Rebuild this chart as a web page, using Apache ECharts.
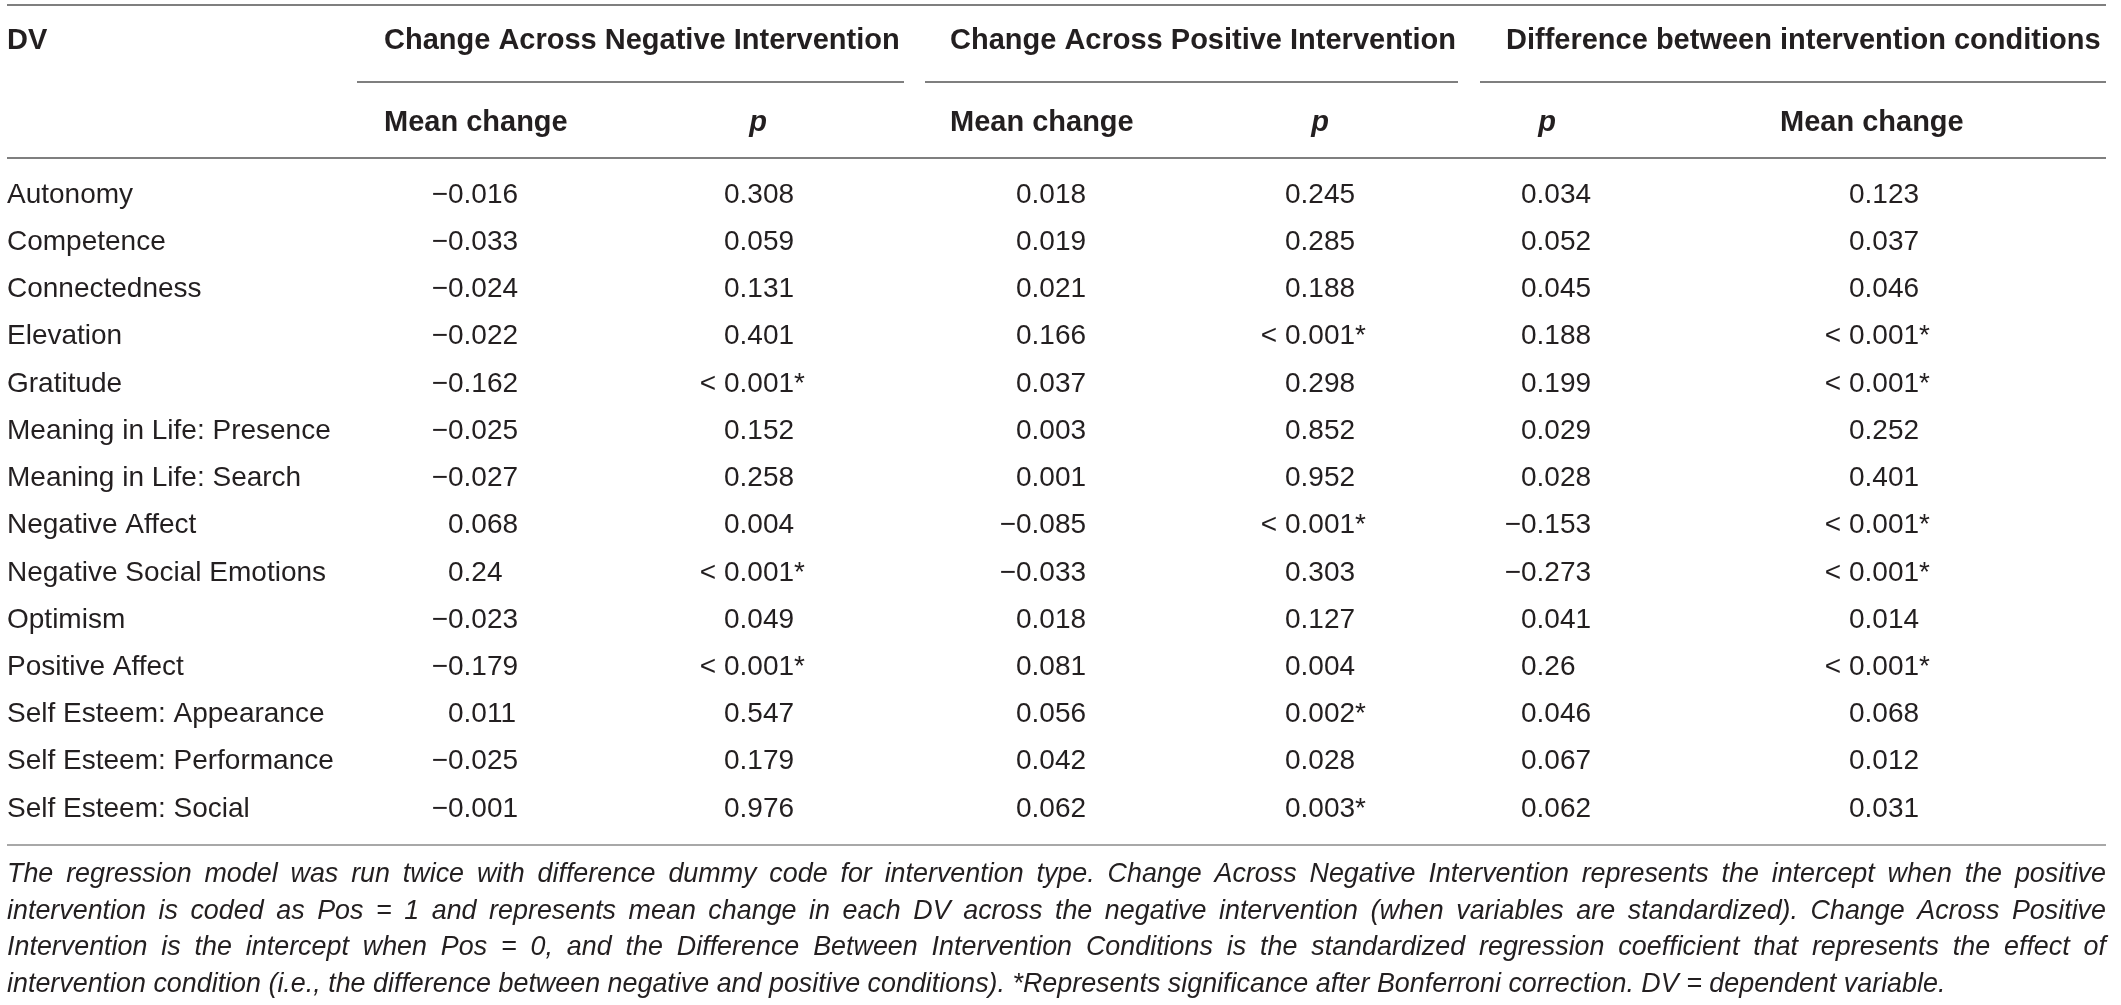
<!DOCTYPE html>
<html>
<head>
<meta charset="utf-8">
<script src="https://cdn.jsdelivr.net/npm/echarts@6/dist/echarts.min.js"></script>
<style>
html,body{margin:0;padding:0;background:#ffffff;}
#c{width:2121px;height:1005px;}
</style>
</head>
<body>
<div id="c"></div>
<script>
// ---------------- DATA ----------------
const dvLabels = [
  'Autonomy','Competence','Connectedness','Elevation','Gratitude',
  'Meaning in Life: Presence','Meaning in Life: Search','Negative Affect',
  'Negative Social Emotions','Optimism','Positive Affect',
  'Self Esteem: Appearance','Self Esteem: Performance','Self Esteem: Social'
];
const negMeanChange = [-0.016,-0.033,-0.024,-0.022,-0.162,-0.025,-0.027,0.068,0.24,-0.023,-0.179,0.011,-0.025,-0.001];
const negP = ['0.308','0.059','0.131','0.401','< 0.001*','0.152','0.258','0.004','< 0.001*','0.049','< 0.001*','0.547','0.179','0.976'];
const posMeanChange = [0.018,0.019,0.021,0.166,0.037,0.003,0.001,-0.085,-0.033,0.018,0.081,0.056,0.042,0.062];
const posP = ['0.245','0.285','0.188','< 0.001*','0.298','0.852','0.952','< 0.001*','0.303','0.127','0.004','0.002*','0.028','0.003*'];
const diffP = [0.034,0.052,0.045,0.188,0.199,0.029,0.028,-0.153,-0.273,0.041,0.26,0.046,0.067,0.062];
const diffMeanChange = ['0.123','0.037','0.046','< 0.001*','< 0.001*','0.252','0.401','< 0.001*','< 0.001*','0.014','< 0.001*','0.068','0.012','0.031'];

const stubHeader = 'DV';
const groupHeaders = ['Change Across Negative Intervention','Change Across Positive Intervention','Difference between intervention conditions'];
const subHeaders = ['Mean change','p','Mean change','p','p','Mean change'];
const noteLines = [
  'The regression model was run twice with difference dummy code for intervention type. Change Across Negative Intervention represents the intercept when the positive',
  'intervention is coded as Pos = 1 and represents mean change in each DV across the negative intervention (when variables are standardized). Change Across Positive',
  'Intervention is the intercept when Pos = 0, and the Difference Between Intervention Conditions is the standardized regression coefficient that represents the effect of',
  'intervention condition (i.e., the difference between negative and positive conditions). *Represents significance after Bonferroni correction. DV = dependent variable.'
];

// ---------------- LAYOUT / STYLE ----------------
const W = 2121, H = 1005;
const FONT = '"Liberation Sans", Arial, Helvetica, sans-serif';
const INK = '#231f20';
const RULE = '#7f7f7f';
const ROW0 = 195, ROWSTEP = 47.23;
const columns = [negMeanChange, negP, posMeanChange, posP, diffP, diffMeanChange];
const colAnchors = [448, 724, 1016, 1285, 1521, 1849];   // decimal-alignment anchors (x scale)
const BODY_FS = 28, HEAD_FS = 29;

function fmt(v) {
  if (typeof v === 'string') return v;
  return (v < 0 ? '\u2212' : '') + String(Math.abs(v));
}
function splitCell(s) {
  if (s.startsWith('\u2212')) return ['\u2212', s.slice(1)];
  if (s.startsWith('< ')) return ['< ', s.slice(2)];
  return ['', s];
}
function txt(text, x, y, opt) {
  opt = opt || {};
  return {
    type: 'text', x: x, y: y, silent: true,
    style: {
      text: text, fill: INK,
      fontSize: opt.fs || BODY_FS, fontFamily: FONT,
      fontWeight: opt.weight || 'normal', fontStyle: opt.style || 'normal',
      align: opt.align || 'left', verticalAlign: 'middle'
    }
  };
}
function hline(x1, x2, y, color, w) {
  return { type: 'line', silent: true, shape: { x1: x1, y1: y, x2: x2, y2: y },
           style: { stroke: color || RULE, lineWidth: w || 2 } };
}

const graphics = [];
// rules
graphics.push(hline(7, 2106, 5));
graphics.push(hline(357, 904, 82));
graphics.push(hline(925, 1458, 82));
graphics.push(hline(1480, 2106, 82));
graphics.push(hline(7, 2106, 158));
graphics.push(hline(7, 2106, 845, '#a8a8a8', 2));
// headers
graphics.push(txt(stubHeader, 7, 41, { fs: HEAD_FS, weight: 'bold' }));
const groupX = [384, 950, 1506];
groupHeaders.forEach((g, i) => graphics.push(txt(g, groupX[i], 41, { fs: HEAD_FS, weight: 'bold' })));
const subPos = [[384, 'left'], [758, 'center'], [950, 'left'], [1320, 'center'], [1547, 'center'], [1780, 'left']];
subHeaders.forEach((s, i) => {
  graphics.push(txt(s, subPos[i][0], 123, { fs: HEAD_FS, weight: 'bold', style: s === 'p' ? 'italic' : 'normal', align: subPos[i][1] }));
});
// footnote, justified lines
(function () {
  const cv = document.createElement('canvas').getContext('2d');
  const left = 7, right = 2106, full = right - left;
  const lastLineWidth = 1940;
  let fs = 26;
  cv.font = 'italic ' + fs + 'px ' + FONT;
  fs = fs * lastLineWidth / cv.measureText(noteLines[3]).width;
  cv.font = 'italic ' + fs + 'px ' + FONT;
  let maxW = 0;
  for (let i = 0; i < 3; i++) maxW = Math.max(maxW, cv.measureText(noteLines[i]).width);
  if (maxW > full * 0.998) { fs = fs * full * 0.998 / maxW; cv.font = 'italic ' + fs + 'px ' + FONT; }
  const ys = [875, 912, 948, 985];
  noteLines.forEach((line, li) => {
    if (li === 3) {
      graphics.push(txt(line, left, ys[li], { fs: fs, style: 'italic' }));
      return;
    }
    const words = line.split(' ');
    const ws = words.map(w => cv.measureText(w).width);
    const sum = ws.reduce((a, b) => a + b, 0);
    const gap = (full - sum) / (words.length - 1);
    let x = left;
    words.forEach((w, k) => {
      graphics.push(txt(w, x, ys[li], { fs: fs, style: 'italic' }));
      x += ws[k] + gap;
    });
  });
})();

// cell series
const series = columns.map((col, c) => ({
  type: 'custom',
  coordinateSystem: 'cartesian2d',
  silent: true,
  data: col.map((v, i) => [colAnchors[c], i]),
  renderItem: function (params, api) {
    const pt = api.coord([api.value(0), api.value(1)]);
    const parts = splitCell(fmt(col[params.dataIndex]));
    const base = { fill: INK, fontSize: BODY_FS, fontFamily: FONT, verticalAlign: 'middle' };
    return {
      type: 'group',
      children: [
        { type: 'text', x: pt[0], y: pt[1], style: Object.assign({ text: parts[0], align: 'right' }, base) },
        { type: 'text', x: pt[0], y: pt[1], style: Object.assign({ text: parts[1], align: 'left' }, base) }
      ]
    };
  }
}));

const chart = echarts.init(document.getElementById('c'), null, { renderer: 'canvas', width: W, height: H });
chart.setOption({
  animation: false,
  backgroundColor: '#ffffff',
  grid: { left: 0, right: 0, top: ROW0 - ROWSTEP / 2, height: ROWSTEP * dvLabels.length, containLabel: false },
  xAxis: { type: 'value', min: 0, max: W, show: false },
  yAxis: {
    type: 'category', inverse: true, data: dvLabels,
    axisLine: { show: false }, axisTick: { show: false }, splitLine: { show: false },
    axisLabel: { inside: true, margin: 7, fontSize: BODY_FS, color: INK, fontFamily: FONT }
  },
  graphic: graphics,
  series: series
});
</script>
</body>
</html>
